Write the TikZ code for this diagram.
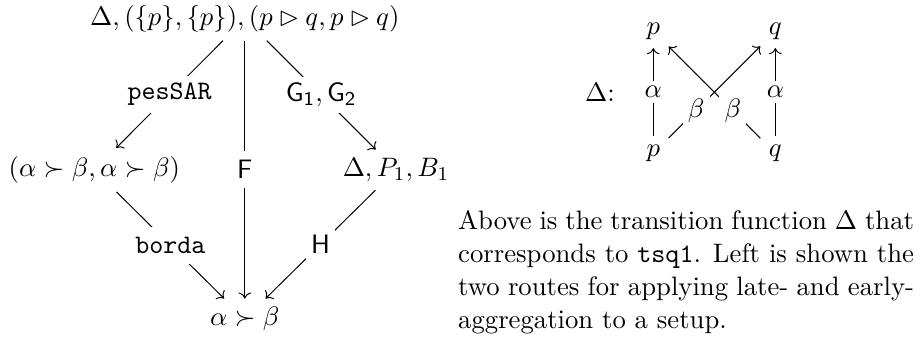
\documentclass[tikz,border=0pt]{standalone}
\usepackage{amsmath}
\usepackage{amssymb}
\usepackage{tikz}
\usetikzlibrary{arrows.meta}

\begin{document}
\begin{tikzpicture}[x=1cm,y=1cm,font=\fontsize{10.95}{13.6}\selectfont,
  tag/.style={fill=white,inner sep=2pt,minimum height=15pt},
  smalltag/.style={fill=white,inner sep=0.5ex},
  ar/.style={-{To}}]
\useasboundingbox (0,0) rectangle (13.28,-4.90);
% the two routes
\node (setup) at (3.53,-0.27) {$\Delta,(\{p\},\{p\}),(p\rhd q,p\rhd q)$};
\node (prefs) at (1.36,-2.45) {$(\alpha\succ\beta,\alpha\succ\beta)$};
\node (trans) at (5.71,-2.45) {$\Delta,P_1,B_1$};
\node (result) at (3.53,-4.60) {$\alpha\succ\beta$};
\draw[ar] (setup) -- node[tag] {\texttt{pesSAR}} (prefs);
\draw[ar] (setup) -- node[tag] {$\mathsf{F}$} (result);
\draw[ar] (setup) -- node[tag] {$\mathsf{G_1},\mathsf{G_2}$} (trans);
\draw[ar] (prefs) -- node[tag] {\texttt{borda}} (result);
\draw[ar] (trans) -- node[tag] {$\mathsf{H}$} (result);
% the transition function
\node (delta) at (8.65,-1.33) {$\Delta$:};
\node (p0) at (9.42,-2.21) {$p$};
\node (q0) at (11.18,-2.21) {$q$};
\node (p1) at (9.42,-0.45) {$p$};
\node (q1) at (11.18,-0.45) {$q$};
\draw[ar] (p0) -- node[smalltag] {$\alpha$} (p1);
\draw[ar] (q0) -- node[smalltag] {$\alpha$} (q1);
\draw[ar] (p0) -- node[smalltag,pos=0.3] {$\beta$} (q1);
\draw[ar] (q0) -- node[smalltag,pos=0.3] {$\beta$} (p1);
\node[anchor=north west,inner sep=0pt,text width=187pt,align=justify] (note) at (6.60,-3.02)
  {Above is the transition function $\Delta$ that corresponds to \texttt{tsq1}. Left is shown the two routes for applying late- and early-aggregation to a setup.};
\end{tikzpicture}
\end{document}
